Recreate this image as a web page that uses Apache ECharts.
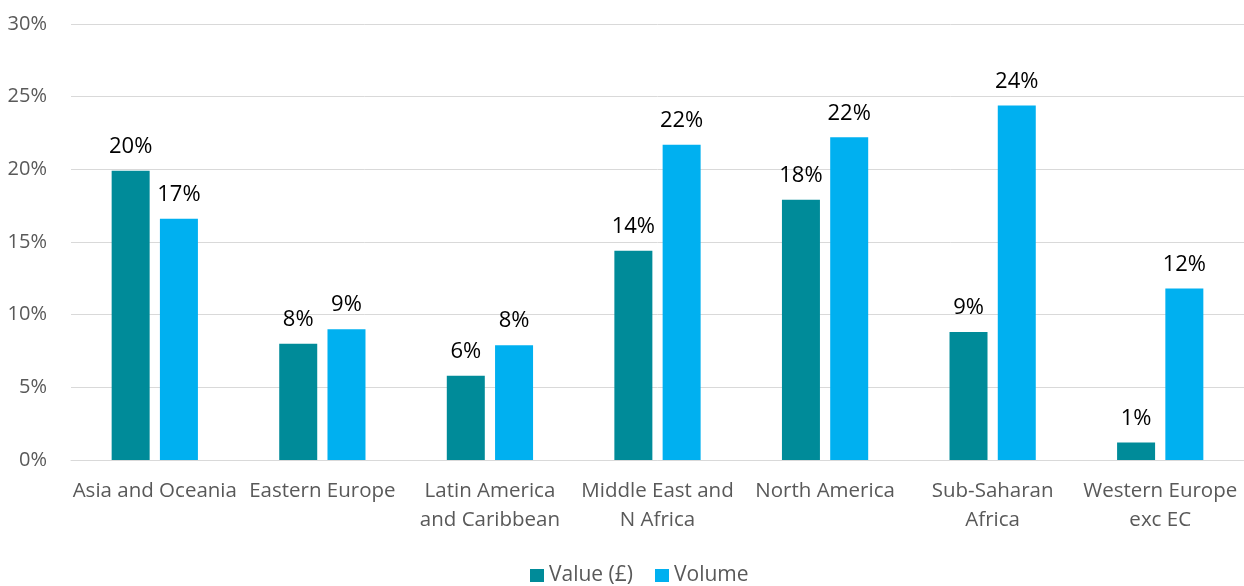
<!DOCTYPE html>
<html>
<head>
<meta charset="utf-8">
<script src="https://cdn.jsdelivr.net/npm/echarts@6/dist/echarts.min.js"></script>
<style>
  html, body { margin: 0; padding: 0; background: #fff; }
  #chart { width: 1244px; height: 586px; }
</style>
</head>
<body>
<div id="chart"></div>
<script>
// regions and shares (%)
const regions = [
  "Asia and Oceania",
  "Eastern Europe",
  "Latin America\nand Caribbean",
  "Middle East and\nN Africa",
  "North America",
  "Sub-Saharan\nAfrica",
  "Western Europe\nexc EC",
];
const valueShare = [19.9, 8.0, 5.8, 14.4, 17.9, 8.8, 1.2];
const volumeShare = [16.6, 9.0, 7.9, 21.7, 22.2, 24.4, 11.8];
const seriesNames = ["Value (£)", "Volume"];

const font = "'Open Sans', 'Liberation Sans', sans-serif";

const chart = echarts.init(document.getElementById("chart"));

const barLabel = {
  show: true,
  position: "top",
  distance: 13,
  color: "#000",
  fontFamily: font,
  fontSize: 22,
  formatter: (p) => Math.round(p.value) + "%",
};

chart.setOption({
  animation: false,
  grid: { left: 71, right: 0, top: 24, bottom: 126 },
  legend: {
    data: seriesNames,
    left: 525,
    top: 560,
    itemWidth: 14,
    itemHeight: 13,
    itemGap: 22,
    icon: "rect",
    textStyle: { color: "#595959", fontFamily: font, fontSize: 21 },
  },
  xAxis: {
    type: "category",
    data: regions,
    axisLine: { lineStyle: { color: "#d9d9d9", width: 1 } },
    axisTick: { show: false },
    axisLabel: {
      interval: 0,
      margin: 17,
      color: "#595959",
      fontFamily: font,
      fontSize: 20.5,
      lineHeight: 29,
    },
  },
  yAxis: {
    type: "value",
    min: 0,
    max: 30,
    interval: 5,
    axisLine: { show: false },
    axisTick: { show: false },
    splitLine: { lineStyle: { color: "#d9d9d9", width: 1 } },
    axisLabel: {
      margin: 24,
      color: "#595959",
      fontFamily: font,
      fontSize: 20,
      formatter: "{value}%",
    },
  },
  series: [
    {
      name: seriesNames[0],
      type: "bar",
      data: valueShare,
      barWidth: 38,
      barGap: "27%",
      itemStyle: { color: "#008b99" },
      label: barLabel,
    },
    {
      name: seriesNames[1],
      type: "bar",
      data: volumeShare,
      barWidth: 38,
      barGap: "27%",
      itemStyle: { color: "#00b0f0" },
      label: barLabel,
    },
  ],
});
</script>
</body>
</html>
